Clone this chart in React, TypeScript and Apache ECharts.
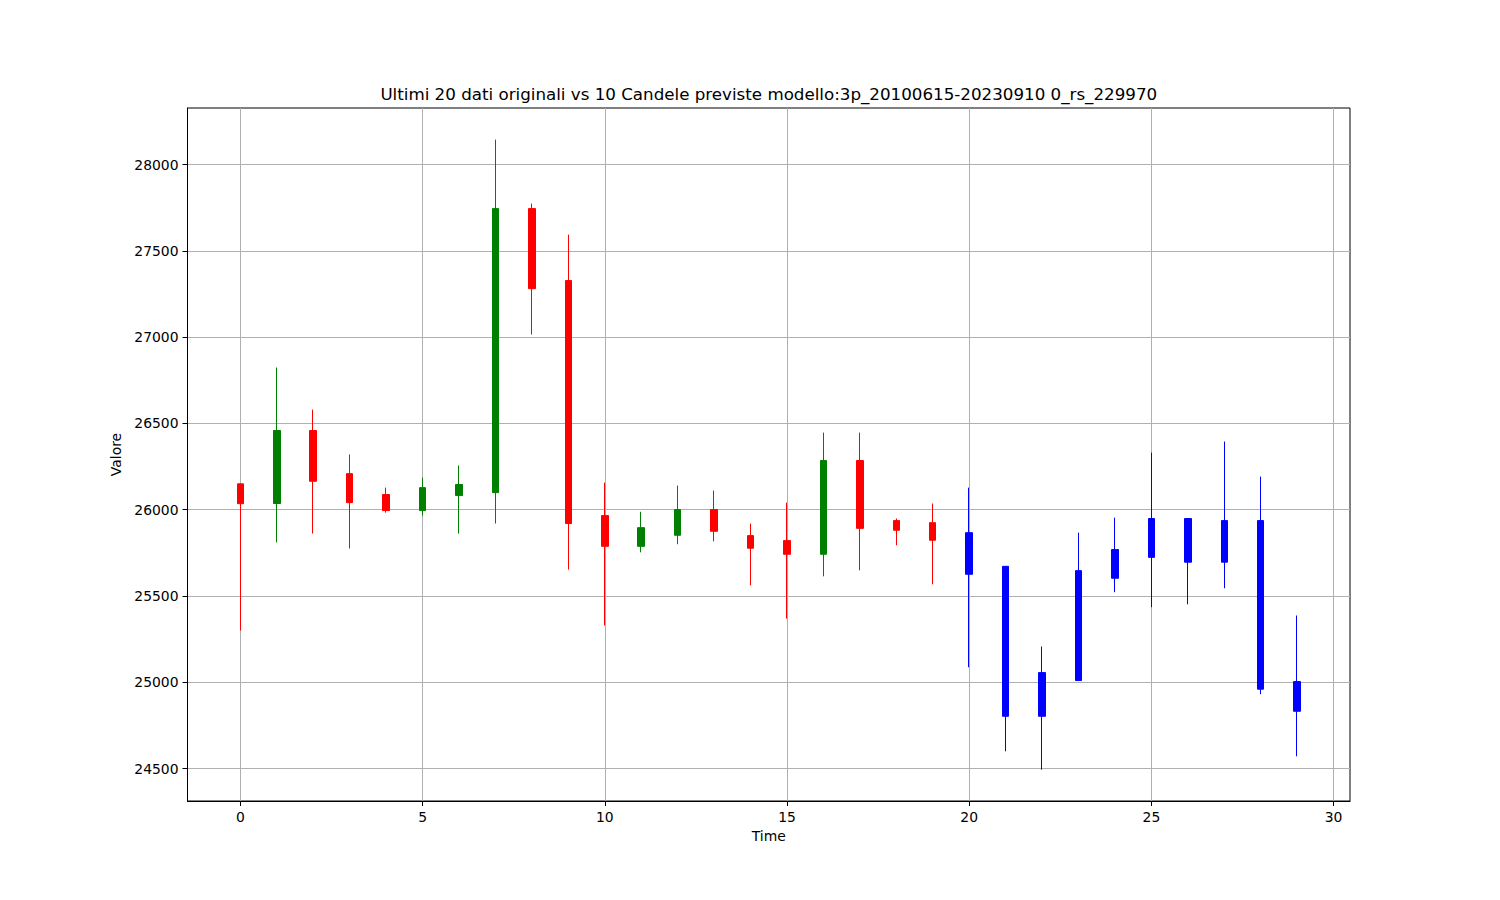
import React, { useEffect, useRef } from "react";
import * as echarts from "echarts";

const TITLE =
  "Ultimi 20 dati originali vs 10 Candele previste modello:3p_20100615-20230910 0_rs_229970";

// Original data (t = 0..19)
const origTime = [0, 1, 2, 3, 4, 5, 6, 7, 8, 9, 10, 11, 12, 13, 14, 15, 16, 17, 18, 19];
const origOpen = [26150, 26036, 26459, 26209, 26088, 25995, 26082, 26099, 27745, 27328, 25966, 25788, 25852, 26001, 25850, 25821, 25742, 26285, 25937, 25925];
const origClose = [26035, 26459, 26165, 26041, 25995, 26128, 26146, 27745, 27281, 25920, 25788, 25896, 26001, 25875, 25777, 25742, 26285, 25892, 25881, 25823];
const origLow = [25300, 25811, 25862, 25775, 25983, 25966, 25862, 25920, 27015, 25653, 25329, 25753, 25800, 25817, 25562, 25369, 25614, 25649, 25794, 25568];
const origHigh = [26150, 26824, 26580, 26320, 26128, 26186, 26256, 28145, 27774, 27594, 26157, 25988, 26140, 26111, 25920, 26041, 26447, 26447, 25949, 26036];

// Predicted data (t = 20..29)
const predTime = [20, 21, 22, 23, 24, 25, 26, 27, 28, 29];
const predOpen = [25867, 25672, 24803, 25010, 25603, 25724, 25949, 25696, 25937, 25004];
const predClose = [25626, 24803, 25056, 25647, 25769, 25949, 25696, 25937, 24960, 24832];
const predLow = [25087, 24600, 24494, 25010, 25522, 25435, 25452, 25545, 24931, 24571];
const predHigh = [26128, 25672, 25207, 25867, 25954, 26331, 25949, 26395, 26192, 25387];

const xTicks = [0, 5, 10, 15, 20, 25, 30];
const yTicks = [24500, 25000, 25500, 26000, 26500, 27000, 27500, 28000];

const FONT = "DejaVu Sans";

export default function App() {
  const ref = useRef<HTMLDivElement>(null);

  useEffect(() => {
    document.body.style.margin = "0";
    const chart = echarts.init(ref.current!, null, { renderer: "svg" });

    const origData = origTime.map((t, i) => [t, origOpen[i], origClose[i], origLow[i], origHigh[i]]);
    const predData = predTime.map((t, i) => [t, predOpen[i], predClose[i], predLow[i], predHigh[i]]);

    const axisCommon = {
      axisLine: { show: true, onZero: false, lineStyle: { color: "#000", width: 1 } },
      splitLine: { show: true, lineStyle: { color: "#b0b0b0", width: 1 } },
      nameLocation: "middle",
      nameTextStyle: { color: "#000", fontSize: 13.9, fontFamily: FONT },
    };

    chart.setOption({
      animation: false,
      backgroundColor: "#fff",
      textStyle: { fontFamily: FONT },
      grid: {
        left: 187.5,
        right: 150,
        top: 108,
        bottom: 99,
        show: true,
        borderColor: "#000",
        borderWidth: 1,
        containLabel: false,
      },
      graphic: [
        {
          type: "text",
          x: 768.75,
          y: 94,
          style: {
            text: TITLE,
            fill: "#000",
            fontSize: 16.7,
            fontFamily: FONT,
            textAlign: "center",
            textVerticalAlign: "middle",
            align: "center",
            verticalAlign: "middle",
          },
        },
      ],
      xAxis: {
        type: "value",
        min: -1.45,
        max: 30.45,
        name: "Time",
        nameGap: 28,
        ...axisCommon,
        axisTick: {
          show: true,
          inside: false,
          length: 5,
          customValues: xTicks,
          lineStyle: { color: "#000", width: 1 },
        },
        axisLabel: {
          customValues: xTicks,
          margin: 9,
          color: "#000",
          fontSize: 13.9,
          fontFamily: FONT,
          formatter: (v: number) => String(v),
        },
      },
      yAxis: {
        type: "value",
        min: 24312,
        max: 28328,
        name: "Valore",
        nameGap: 49,
        ...axisCommon,
        axisTick: {
          show: true,
          inside: false,
          length: 5,
          customValues: yTicks,
          lineStyle: { color: "#000", width: 1 },
        },
        axisLabel: {
          customValues: yTicks,
          margin: 9,
          color: "#000",
          fontSize: 13.9,
          fontFamily: FONT,
          formatter: (v: number) => String(v),
        },
      },
      series: [
        {
          name: "Originali",
          type: "candlestick",
          data: origData,
          barWidth: 7,
          itemStyle: {
            color: "#008000",
            color0: "#ff0000",
            borderColor: "#008000",
            borderColor0: "#ff0000",
            borderWidth: 1,
          },
        },
        {
          name: "Previste",
          type: "candlestick",
          data: predData,
          barWidth: 7,
          itemStyle: {
            color: "#0000ff",
            color0: "#0000ff",
            borderColor: "#0000ff",
            borderColor0: "#0000ff",
            borderWidth: 1,
          },
        },
      ],
    });

    return () => chart.dispose();
  }, []);

  return <div ref={ref} style={{ width: 1500, height: 900 }} />;
}
